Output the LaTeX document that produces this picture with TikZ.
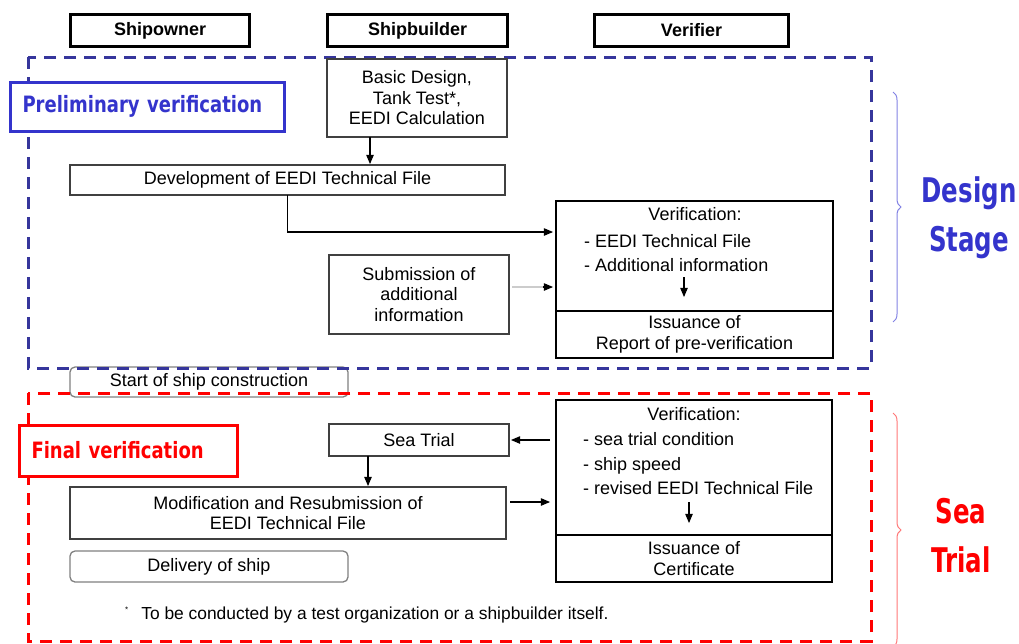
\documentclass[tikz,border=0pt]{standalone}
\usepackage{fontspec}
\setmainfont{Liberation Sans}
\newfontfamily\boxlabelfont[FakeStretch=0.8]{DejaVu Sans}
\newfontfamily\sidelabelfont[FakeStretch=0.72]{DejaVu Sans}
\usepackage{tikz}
\usetikzlibrary{positioning}
\usetikzlibrary{decorations.pathreplacing}
\usetikzlibrary{arrows}
\tikzstyle{every link} = []
\tikzstyle{link} = [>=triangle 45, ->, draw, line width=1.1pt, every link]
\definecolor{frameblue}{RGB}{54,54,156}
\definecolor{stageblue}{RGB}{52,52,204}
\definecolor{braceblue}{RGB}{130,130,228}
\definecolor{bracered}{RGB}{255,120,120}
\definecolor{boxline}{RGB}{64,64,64}

\begin{document}
\begin{tikzpicture}[x=1pt, y=-1pt, node distance=0pt]
        \tikzstyle{every node} = [font=\fontsize{18}{20.5}\selectfont]
        \tikzstyle{actor} = [draw, line width=3.2pt, minimum height=32pt, inner sep=0pt, font=\bfseries\fontsize{18}{20}\selectfont]
        \tikzstyle{stepbox} = [draw=boxline, line width=1.3pt, fill=white, align=center, inner sep=0pt, outer sep=0pt]
        \tikzstyle{roundbox} = [draw=gray, line width=1.3pt, align=center, inner sep=0pt, rounded corners=5pt]
        \tikzstyle{stagebox} = [draw, line width=3pt, fill=white, anchor=west, align=left, inner xsep=12pt, inner ysep=0pt, font=\boxlabelfont\bfseries\fontsize{22.5}{24}\selectfont]
        \tikzstyle{sidelabel} = [align=center, font=\sidelabelfont\bfseries\fontsize{34}{49}\selectfont]
        \tikzstyle{frame} = [line width=3pt, dash pattern=on 12pt off 8pt]
        \tikzstyle{stagebrace} = [line width=1pt, decorate, decoration={brace, amplitude=8pt}]
        \tikzstyle{listtext} = [align=left, anchor=west, inner sep=0pt, font=\fontsize{18}{24.5}\selectfont]

        \useasboundingbox (0,0) rectangle (1019,643);

        \node[roundbox, minimum width=278pt, minimum height=30pt] (start) at (209,382) {Start of ship construction};
        \draw[frame, frameblue] (28,57) rectangle (871,368);
        \draw[frame, red] (28,393) rectangle (871,641);

        \node[actor, minimum width=179pt] (owner) at (160,30.5) {Shipowner};
        \node[actor, minimum width=180pt] (builder) at (417.5,30.5) {Shipbuilder};
        \node[actor, minimum width=194pt] (verifier) at (691.5,30.5) {Verifier};

        \node[stagebox, draw=stageblue, text=stageblue, text width=250pt, minimum height=49pt] (prelim) at (9,106.5) {Preliminary verification};
        \node[stagebox, draw=red, text=red, text width=194pt, minimum height=51pt] (final) at (18,450.5) {Final verification};

        \node[stepbox, minimum width=180pt, minimum height=78pt] (basic) at (417,98) {Basic Design,\\Tank Test*,\\EEDI Calculation};
        \node[stepbox, minimum width=435pt, minimum height=30pt] (devel) at (287.5,180) {Development of EEDI Technical File};
        \node[stepbox, minimum width=180pt, minimum height=79pt] (subm) at (419,294.5) {Submission of\\additional\\information};
        \node[stepbox, draw=black, minimum width=277pt, minimum height=110pt] (ver1) at (694.5,256) {};
        \node[stepbox, draw=black, minimum width=277pt, minimum height=47pt, below=of ver1] (iss1) {Issuance of\\Report of pre-verification};
        \node (v1head) at (695,214) {Verification:};
        \node[listtext] (v1list) at (584,253) {- EEDI Technical File\\- Additional information};

        \node[stepbox, minimum width=180pt, minimum height=32pt] (seatrial) at (419,440) {Sea Trial};
        \node[stepbox, minimum width=436pt, minimum height=52pt] (modif) at (288,513) {Modification and Resubmission of\\EEDI Technical File};
        \node[roundbox, minimum width=278pt, minimum height=31pt] (delivery) at (209,566.5) {Delivery of ship};
        \node[stepbox, draw=black, minimum width=276pt, minimum height=135pt] (ver2) at (694,467.5) {};
        \node[stepbox, draw=black, minimum width=276pt, minimum height=47pt, below=of ver2] (iss2) {Issuance of\\Certificate};
        \node (v2head) at (694,414) {Verification:};
        \node[listtext] (v2list) at (583,464) {- sea trial condition\\- ship speed\\- revised EEDI Technical File};

        \node[anchor=west, inner sep=0pt, font=\fontsize{17.4}{20}\selectfont] (note) at (125,615) {\raisebox{7pt}{\fontsize{8}{8}\selectfont *}\hspace{13pt}To be conducted by a test organization or a shipbuilder itself.};

        \node[sidelabel, text=stageblue] (design) at (969,218) {Design\\Stage};
        \node[sidelabel, text=red] (trial) at (961,536) {Sea\\Trial};
        \draw[stagebrace, braceblue] (893,92) -- (893,322);
        \draw[stagebrace, bracered] (893,413) -- (893,647);

        \coordinate (v1a) at (684,277);
        \coordinate (v1b) at (684,297);
        \coordinate (v2a) at (689,502);
        \coordinate (v2b) at (689,523);

        \draw[link, shorten >=1pt] ([xshift=-47pt]basic.south) -- ([xshift=-47pt]basic.south |- devel.north);
        \draw[link, shorten >=3pt] (devel.south) |- ([yshift=24pt]ver1.west);
        \draw[gray!40, line width=1.1pt, shorten <=3pt, shorten >=10pt] ([yshift=-31pt]ver1.west -| subm.east) -- ([yshift=-31pt]ver1.west);
        \draw[link, shorten >=3pt] ([yshift=-31pt, xshift=-13pt]ver1.west) -- ([yshift=-31pt]ver1.west);
        \draw[link] (v1a) -- (v1b);
        \draw[link, shorten <=6pt, shorten >=2pt] (seatrial.east -| ver2.west) -- (seatrial.east);
        \draw[link, shorten >=1pt] ([xshift=-51pt]seatrial.south) -- ([xshift=-51pt]seatrial.south |- modif.north);
        \draw[link, shorten <=4pt, shorten >=6pt] ([yshift=11pt]modif.east) -- ([yshift=11pt]modif.east -| ver2.west);
        \draw[link] (v2a) -- (v2b);
\end{tikzpicture}
\end{document}
